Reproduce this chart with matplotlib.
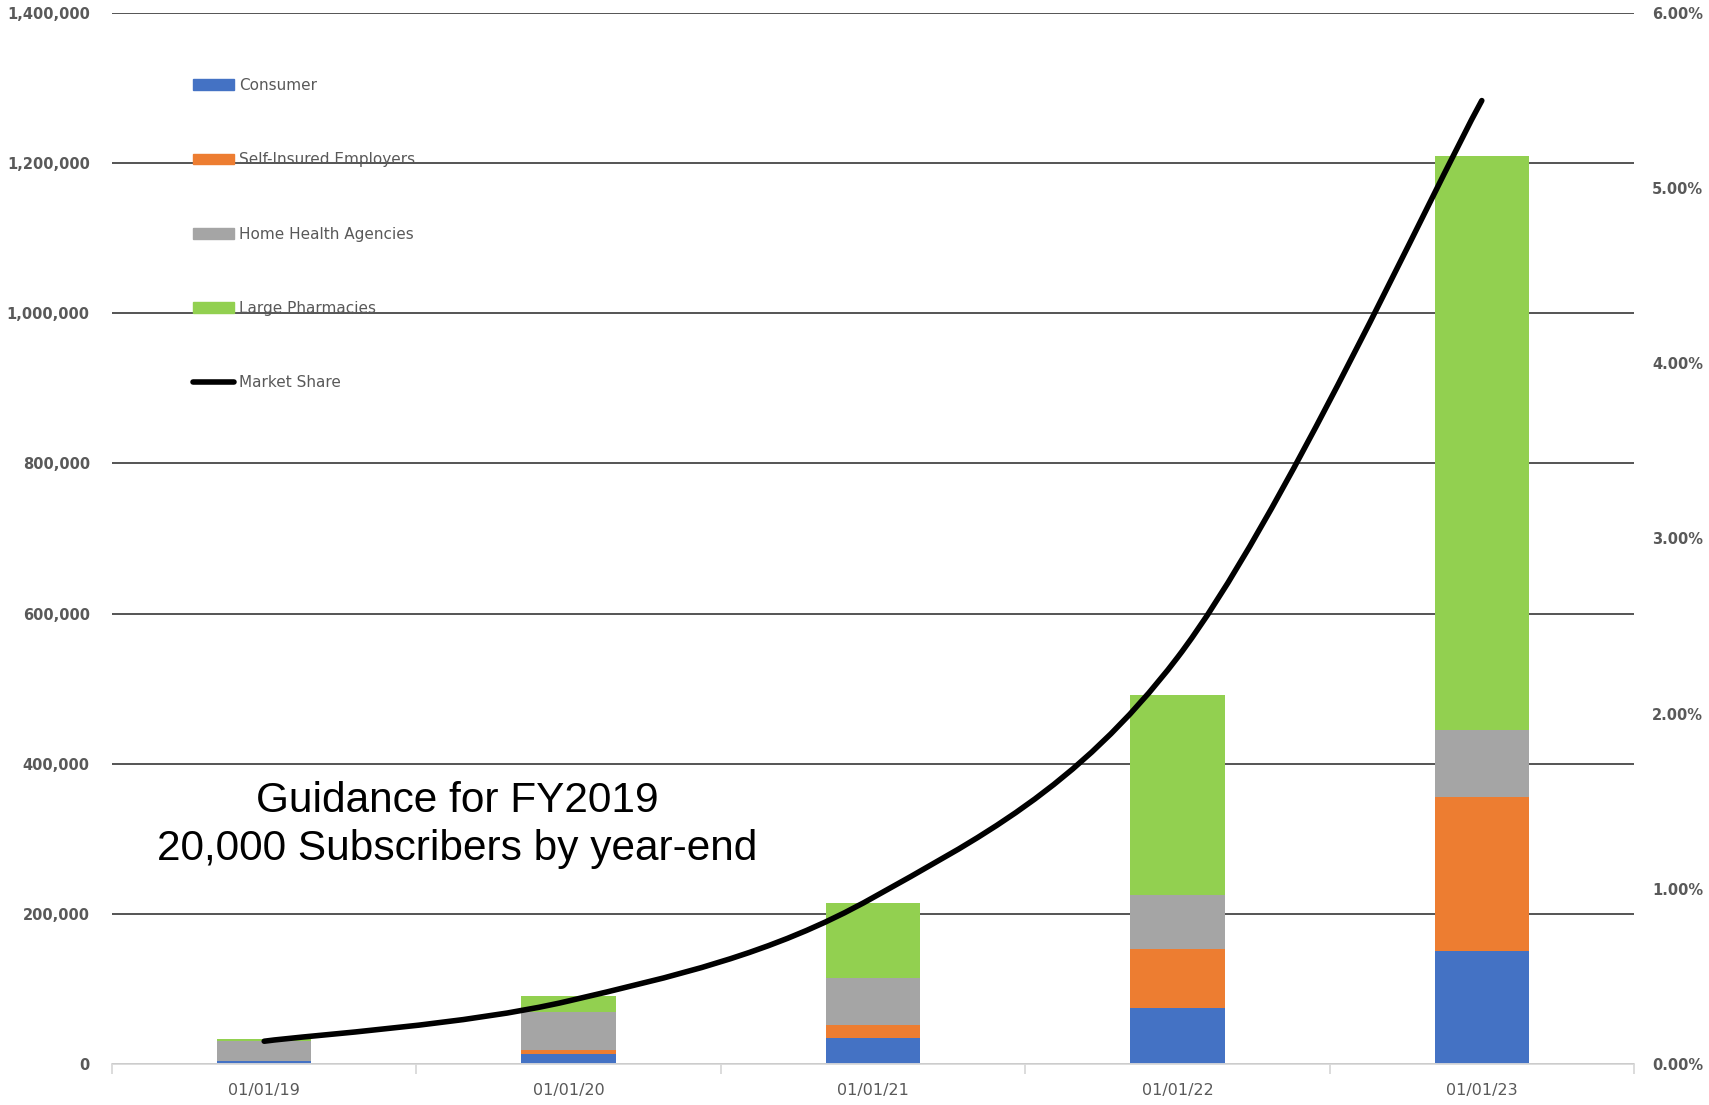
import numpy as np
import matplotlib
matplotlib.use("Agg")
import matplotlib.pyplot as plt
from matplotlib.path import Path
from matplotlib.patches import PathPatch
from matplotlib.lines import Line2D
from matplotlib.ticker import FuncFormatter, MultipleLocator, FixedLocator

# data
dates = ["01/01/19", "01/01/20", "01/01/21", "01/01/22", "01/01/23"]
consumer = [3500, 13500, 35000, 75000, 150000]
self_insured = [500, 4500, 17000, 78000, 205000]
home_health = [26000, 51000, 62000, 72000, 90000]
pharmacies = [3000, 21000, 100000, 266000, 765000]
market_share = [0.0013, 0.0036, 0.0095, 0.0232, 0.0550]

series = [("Consumer", consumer, "#4472C4"),
          ("Self-Insured Employers", self_insured, "#ED7D31"),
          ("Home Health Agencies", home_health, "#A5A5A5"),
          ("Large Pharmacies", pharmacies, "#92D050")]

grey = "#595959"
fig = plt.figure(figsize=(17.09, 11.05), dpi=100)
ax = fig.add_axes([112/1709, 1-1064/1105, (1634-112)/1709, (1064-13)/1105])

x = np.arange(len(dates))
bottom = np.zeros(len(dates))
handles = []
for name, vals, col in series:
    ax.bar(x, vals, 0.31, bottom=bottom, color=col, label=name, zorder=2)
    bottom += np.array(vals)
    handles.append(plt.Rectangle((0, 0), 1, 1, color=col))

ax.set_xlim(-0.5, len(dates)-0.5)
ax.set_ylim(0, 1400000)
ax.yaxis.set_major_locator(MultipleLocator(200000))
ax.yaxis.set_major_formatter(FuncFormatter(lambda v, p: f"{int(v):,}"))
ax.set_axisbelow(True)
ax.grid(axis="y", color="#262626", lw=1.1, zorder=0)
for s in ["top", "left", "right"]:
    ax.spines[s].set_visible(False)
ax.spines["bottom"].set_color("#d9d9d9")
ax.spines["bottom"].set_linewidth(1.3)
ax.set_xticks(x)
ax.set_xticklabels(dates, fontsize=11.5, color=grey)
ax.xaxis.set_minor_locator(FixedLocator(np.arange(-0.5, len(dates), 1.0)))
ax.tick_params(axis="x", which="major", length=0, pad=14)
ax.tick_params(axis="x", which="minor", length=7, color="#d9d9d9", width=1.3)
ax.tick_params(axis="y", length=0, pad=16)
for t in ax.get_yticklabels():
    t.set_fontweight("bold")
    t.set_color(grey)
    t.set_fontsize(10.5)

# secondary axis for market share
ax2 = ax.twinx()
ax2.set_ylim(0, 0.06)
ax2.yaxis.set_major_locator(MultipleLocator(0.01))
ax2.yaxis.set_major_formatter(FuncFormatter(lambda v, p: f"{v*100:.2f}%"))
for s in ["top", "left", "right", "bottom"]:
    ax2.spines[s].set_visible(False)
ax2.tick_params(axis="y", length=0, pad=13)
for t in ax2.get_yticklabels():
    t.set_fontweight("bold")
    t.set_color(grey)
    t.set_fontsize(10.5)

# smoothed line like excel (bezier through the points)
pts = np.column_stack([x, market_share])
verts = [pts[0]]
codes = [Path.MOVETO]
n = len(pts)
for i in range(n-1):
    p0 = pts[max(i-1, 0)]
    p1 = pts[i]
    p2 = pts[i+1]
    p3 = pts[min(i+2, n-1)]
    verts += [p1 + (p2-p0)/6, p2 - (p3-p1)/6, p2]
    codes += [Path.CURVE4]*3
ax2.add_patch(PathPatch(Path(verts, codes), fill=False, edgecolor="black",
                        lw=4, capstyle="round", joinstyle="round", zorder=3))
handles.append(Line2D([0], [0], color="black", lw=4, solid_capstyle="round"))

labels = [s[0] for s in series] + ["Market Share"]
leg = fig.legend(handles, labels, loc="upper left", bbox_to_anchor=(193/1709, 1-78/1105),
                 frameon=False, fontsize=11, labelspacing=3.88, handlelength=2.7,
                 handletextpad=0.3, borderpad=0, borderaxespad=0)
for t in leg.get_texts():
    t.set_color(grey)

fig.text(457/1709, 1-825/1105, "Guidance for FY2019\n20,000 Subscribers by year-end",
         ha="center", va="center", fontsize=30.5, family="Liberation Sans",
         linespacing=1.24)

fig.savefig("out.png", dpi=100)
